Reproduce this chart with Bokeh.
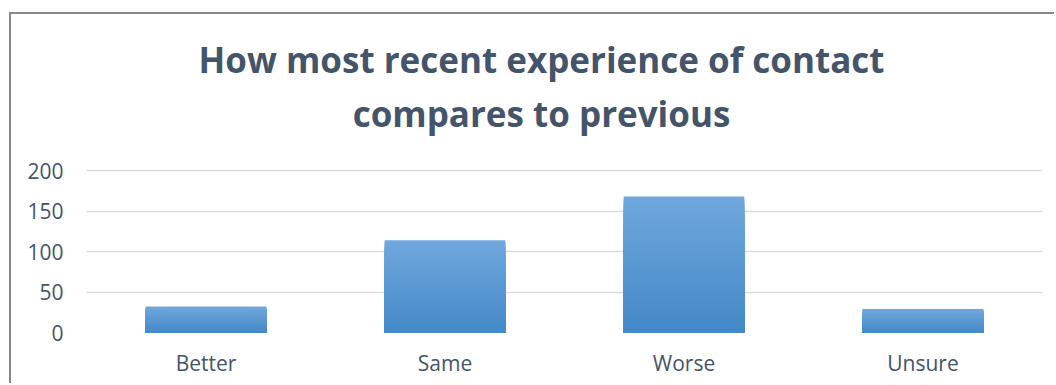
from bokeh.plotting import figure
from bokeh.models import Label, FixedTicker, ColumnDataSource
from bokeh.embed import file_html
from bokeh.resources import INLINE

categories = ["Better", "Same", "Worse", "Unsure"]
counts = [32, 114, 168, 29]
y_ticks = [0, 50, 100, 150, 200]
title_lines = ["How most recent experience of contact", "compares to previous"]

TEXT_COLOR = "#44546A"
TOP_RGB = (113, 167, 221)
BOT_RGB = (67, 137, 200)
N_STRIPS = 40
BAR_WIDTH = 0.505
Y_TOP = 392.6  # frame extends up to hold the title; ticks/grid stop at 200

p = figure(x_range=categories, y_range=(0, Y_TOP), width=1045, height=371,
           output_backend="svg", toolbar_location=None,
           min_border_left=75, min_border_right=14,
           min_border_top=0, min_border_bottom=53)
p.title.visible = False
p.outline_line_color = None
p.background_fill_color = "white"
p.border_fill_color = "white"

# gradient bars built from data values: layered strips from 0 up, tallest first
xs, tops, cols = [], [], []
for k in range(N_STRIPS - 1, -1, -1):
    t = (k + 0.5) / N_STRIPS
    rgb = tuple(int(round(BOT_RGB[i] + (TOP_RGB[i] - BOT_RGB[i]) * t)) for i in range(3))
    col = "#%02x%02x%02x" % rgb
    for c, v in zip(categories, counts):
        xs.append(c)
        tops.append(v * (k + 1) / N_STRIPS)
        cols.append(col)
src = ColumnDataSource(dict(x=xs, top=tops, color=cols))
p.vbar(x="x", bottom=0, top="top", width=BAR_WIDTH, fill_color="color",
       line_color=None, source=src)

p.yaxis.ticker = FixedTicker(ticks=y_ticks)
for ax in (p.xaxis[0], p.yaxis[0]):
    ax.axis_line_color = None
    ax.major_tick_line_color = None
    ax.minor_tick_line_color = None
    ax.major_tick_out = 0
    ax.major_tick_in = 0
    ax.major_label_text_font = "Open Sans"
    ax.major_label_text_font_size = "21px"
    ax.major_label_text_color = TEXT_COLOR
p.yaxis.major_label_standoff = 23
p.xaxis.major_label_standoff = 16

p.xgrid.grid_line_color = None
p.ygrid.grid_line_color = "#D9DDE3"
p.ygrid.grid_line_width = 1.5

for line, yy in zip(title_lines, [273, 219]):
    p.add_layout(Label(x=455, y=yy, x_units="screen", y_units="screen", text=line,
                       text_align="center", text_baseline="alphabetic",
                       text_font="Open Sans", text_font_style="bold",
                       text_font_size="35px", text_color=TEXT_COLOR))

p.styles = {"border-left": "2px solid #888888", "border-top": "2px solid #888888"}
p.margin = (12, 0, 0, 9)

open("out.html", "w").write(file_html(p, INLINE))
